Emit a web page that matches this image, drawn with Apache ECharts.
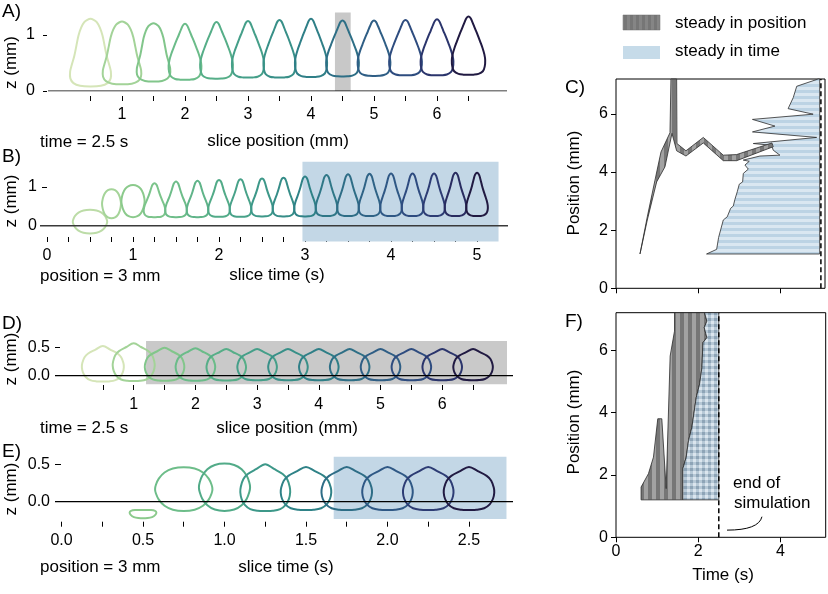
<!DOCTYPE html>
<html><head><meta charset="utf-8">
<script src="https://cdn.jsdelivr.net/npm/echarts@6/dist/echarts.min.js"></script>
<style>html,body{margin:0;padding:0;background:#fff}#c{width:828px;height:594px}</style>
</head><body><div id="c"></div>
<script>
// ---------------- DATA ----------------
// outline templates (right half, from top (0,1) to bottom (0,0)); u = half-width fraction, v = height fraction
const dropU = [0,0.12,0.24,0.38,0.54,0.70,0.84,0.95,1.0,0.97,0.86,0.60,0.30,0];
const dropV = [1,0.975,0.90,0.80,0.69,0.57,0.46,0.35,0.25,0.14,0.06,0.015,0.002,0];
const bulbU = [0,0.10,0.20,0.28,0.36,0.46,0.60,0.76,0.90,0.99,0.98,0.86,0.60,0.30,0];
const bulbV = [1,0.985,0.945,0.88,0.80,0.70,0.58,0.46,0.35,0.24,0.14,0.06,0.015,0.002,0];
const pearU = [0,0.15,0.30,0.45,0.58,0.68,0.78,0.90,0.98,0.97,0.82,0.50,0];
const pearV = [1,0.985,0.95,0.87,0.75,0.60,0.45,0.32,0.22,0.12,0.05,0.01,0];
const roofU = [0,0.35,0.70,0.88,0.98,1.0,0.95,0.82,0.60,0.30,0];
const roofV = [1,0.90,0.79,0.68,0.52,0.40,0.26,0.13,0.04,0.005,0];
const ovalU = [0,0.38,0.67,0.87,0.97,1.0,0.97,0.87,0.67,0.38,0];
const ovalV = [1,0.97,0.88,0.74,0.60,0.50,0.40,0.26,0.12,0.03,0];
const bowlU = [0,0.6,0.9,1.0,0.92,0.68,0.35,0];
const bowlV = [1,0.98,0.88,0.68,0.4,0.13,0.01,0];

// Panel A: time = 2.5 s, slices by position (mm)
const aPos    = [0.5,1.0,1.5,2.0,2.5,3.0,3.5,4.0,4.5,5.0,5.5,6.0,6.5];
const aHalfW  = [0.33,0.31,0.27,0.26,0.26,0.255,0.255,0.255,0.26,0.26,0.26,0.26,0.265];
const aBottom = [0.08,0.12,0.17,0.20,0.22,0.24,0.24,0.25,0.26,0.27,0.28,0.28,0.29];
const aTop    = [1.29,1.24,1.21,1.20,1.23,1.25,1.27,1.29,1.26,1.26,1.27,1.28,1.33];
const aShape  = ['pear','pear','pear','drop','drop','drop','drop','drop','drop','drop','drop','drop','drop'];
const aShadeX = [4.38,4.63], aShadeZ = [0,1.40];
const aTicks = [0.5,1,1.5,2,2.5,3,3.5,4,4.5,5,5.5,6,6.5], aLabels = [1,2,3,4,5,6];
const aYTicks = [0,1];

// Panel B: position = 3 mm, slices by time (s)
const bTime   = [0.5,0.75,1.0,1.25,1.5,1.75,2.0,2.25,2.5,2.75,3.0,3.25,3.5,3.75,4.0,4.25,4.5,4.75,5.0];
const bHalfW  = [0.20,0.11,0.135,0.126,0.126,0.126,0.126,0.126,0.126,0.126,0.126,0.126,0.126,0.126,0.126,0.126,0.126,0.126,0.126];
const bBottom = [-0.20,0.19,0.22,0.22,0.22,0.22,0.23,0.23,0.24,0.24,0.24,0.25,0.25,0.25,0.25,0.25,0.25,0.25,0.25];
const bTop    = [0.41,0.94,1.05,1.10,1.14,1.16,1.18,1.20,1.22,1.24,1.27,1.31,1.33,1.34,1.35,1.35,1.35,1.37,1.37];
const bShape  = ['oval','oval','oval','bulb','bulb','bulb','bulb','bulb','bulb','bulb','bulb','bulb','bulb','bulb','bulb','bulb','bulb','bulb','bulb'];
const bShadeX = [2.97,5.25], bShadeZ = [-0.41,1.65];
const bTicks = [0,0.25,0.5,0.75,1,1.25,1.5,1.75,2,2.25,2.5,2.75,3,3.25,3.5,3.75,4,4.25,4.5,4.75,5], bLabels = [0,1,2,3,4,5];
const bYTicks = [0,1];

// Panel D: time = 2.5 s, slices by position (mm)
const dPos    = [0.5,1.0,1.5,2.0,2.5,3.0,3.5,4.0,4.5,5.0,5.5,6.0,6.5];
const dHalfW  = [0.34,0.34,0.32,0.32,0.32,0.32,0.32,0.32,0.32,0.32,0.32,0.32,0.32];
const dBottom = [-0.105,-0.095,-0.09,-0.09,-0.085,-0.08,-0.08,-0.08,-0.08,-0.08,-0.08,-0.08,-0.08];
const dTop    = [0.53,0.58,0.50,0.49,0.475,0.475,0.475,0.475,0.475,0.475,0.475,0.475,0.475];
const dShape  = ['roof','roof','roof','roof','roof','roof','roof','roof','roof','roof','roof','roof','roof'];
const dShadeX = [1.2,7.05], dShadeZ = [-0.154,0.62];
const dTicks = aTicks, dLabels = [1,2,3,4,5,6];
const dYTicks = [0,0.5];

// Panel E: position = 3 mm, slices by time (s)
const eTime   = [0.5,0.75,1.0,1.25,1.5,1.75,2.0,2.25,2.5];
const eHalfW  = [0.082,0.176,0.157,0.153,0.155,0.155,0.155,0.155,0.155];
const eBottom = [-0.22,-0.124,-0.124,-0.124,-0.11,-0.11,-0.11,-0.11,-0.11];
const eTop    = [-0.11,0.46,0.51,0.50,0.465,0.465,0.465,0.465,0.465];
const eShape  = ['bowl','oval','oval','roof','roof','roof','roof','roof','roof'];
const eShadeX = [1.67,2.73], eShadeZ = [-0.23,0.60];
const eTicks = [0,0.25,0.5,0.75,1,1.25,1.5,1.75,2,2.25,2.5], eLabels = [0,0.5,1,1.5,2,2.5];
const eYTicks = [0,0.5];

// Panel C: steady regions (time s, position mm)
const cGrayT = [0.585,0.764,0.951,1.098,1.317,1.341,1.48,1.488,1.707,2.13,2.618,2.943,3.805,3.837,2.943,2.618,2.13,1.707,1.48,1.366,1.195,0.992,0.764];
const cGrayP = [1.18,2.46,3.72,4.69,5.35,7.2,7.2,4.98,4.73,5.19,4.58,4.60,5.0,4.87,4.39,4.39,5.0,4.55,4.73,5.33,4.18,3.66,2.35];
const cBlueT = [2.21,2.456,2.504,2.618,2.715,2.797,2.862,2.902,2.959,3.008,3.09,3.106,3.228,3.146,3.252,3.106,3.512,4.0,3.837,3.797,3.35,4.895,3.33,3.878,3.33,4.81,4.20,4.325,4.41,4.934,4.97,4.97];
const cBlueP = [1.18,1.34,1.75,2.35,2.46,2.75,2.83,3.06,3.32,3.58,3.66,3.95,4.10,4.24,4.37,4.41,4.55,4.58,4.75,4.92,4.98,5.19,5.38,5.58,5.81,5.99,6.18,6.56,6.95,7.2,7.2,1.18];
const cEndTime = 5.0;

// Panel F
const fGrayT = [0.61,0.61,0.789,0.911,1.016,1.114,1.22,1.317,1.423,1.423,2.154,2.21,2.146,2.21,2.114,2.09,2.033,1.951,1.846,1.764,1.707,1.626,1.626];
const fGrayP = [1.2,1.61,2.04,2.57,3.80,3.80,1.56,5.81,6.61,7.2,7.2,6.93,6.72,6.40,6.24,5.44,4.91,4.48,3.53,3.10,2.57,2.20,1.2];
const fBlueT = [1.626,1.626,1.707,1.764,1.846,1.951,2.033,2.09,2.114,2.21,2.146,2.21,2.154,2.5,2.5];
const fBlueP = [1.2,2.20,2.57,3.10,3.53,4.48,4.91,5.44,6.24,6.40,6.72,6.93,7.2,7.2,1.2];
const fEndTime = 2.5;
const rTicksX = [0,2,4], rTicksY = [0,2,4,6];
const annotStart = [3.55,0.66], annotCtrl = [3.47,0.23], annotEnd = [2.70,0.23];

// ---------------- STYLE HELPERS ----------------
const FONT = 'Liberation Sans, Arial, Helvetica, sans-serif';
const CMAP = [[0,'#eef3cf'],[0.077,'#d5e5b8'],[0.1,'#bcdca7'],[0.154,'#a3d398'],[0.2,'#8bca8c'],[0.3,'#6dbd89'],[0.4,'#52ab88'],[0.5,'#3d9889'],[0.6,'#2f8287'],[0.7,'#2e6d86'],[0.8,'#2f5885'],[0.88,'#2e437b'],[0.94,'#2a2f66'],[1,'#211a42']];
function hex(h){return [1,3,5].map(i=>parseInt(h.substr(i,2),16));}
function cmap(t){
  t=Math.max(0,Math.min(1,t));
  for(let i=1;i<CMAP.length;i++){
    if(t<=CMAP[i][0]){const a=hex(CMAP[i-1][1]),b=hex(CMAP[i][1]);const f=(t-CMAP[i-1][0])/(CMAP[i][0]-CMAP[i-1][0]);
      return 'rgb('+a.map((v,k)=>Math.round(v+(b[k]-v)*f)).join(',')+')';}
  }
  return CMAP[CMAP.length-1][1];
}
const TPL = {drop:[dropU,dropV],bulb:[bulbU,bulbV],pear:[pearU,pearV],roof:[roofU,roofV],oval:[ovalU,ovalV],bowl:[bowlU,bowlV]};
function tplPts(key){const [U,V]=TPL[key];const p=[];for(let i=0;i<U.length;i++)p.push([U[i],V[i]]);for(let i=U.length-2;i>=1;i--)p.push([-U[i],V[i]]);return p;}
function pat(w,h,fn){const c=document.createElement('canvas');c.width=w;c.height=h;fn(c.getContext('2d'));return {image:c,repeat:'repeat'};}
const grayPat = pat(8,8,g=>{g.fillStyle='#a2a2a2';g.fillRect(0,0,8,8);g.fillStyle='#767676';g.fillRect(0,0,4,8);});
const legGrayPat = pat(6,6,g=>{g.fillStyle='#858585';g.fillRect(0,0,6,6);g.fillStyle='#767676';g.fillRect(0,0,3,6);});
const blueHPat = pat(6,6,g=>{g.fillStyle='#dae7f1';g.fillRect(0,0,6,6);g.fillStyle='#bcd3e4';g.fillRect(0,0,6,3);});
const blueChkPat = pat(6,6,g=>{g.fillStyle='#dbe5ee';g.fillRect(0,0,6,6);g.fillStyle='#b6c8d6';g.fillRect(0,0,6,3);g.fillRect(0,0,3,6);g.fillStyle='#8ea4b7';g.fillRect(0,0,3,3);});

function outlineSeries(g,xs,hw,bot,top,shp,norm){
  return {type:'custom',xAxisIndex:g,yAxisIndex:g,z:3,silent:true,clip:false,
    data:xs.map((x,i)=>[x,bot[i]]),
    renderItem:(params,api)=>{const i=params.dataIndex;
      const pts=tplPts(shp[i]).map(([u,v])=>api.coord([xs[i]+u*hw[i],bot[i]+v*(top[i]-bot[i])]));
      return {type:'polygon',shape:{points:pts,smooth:0.35},style:{fill:'none',stroke:cmap(xs[i]/norm),lineWidth:2}};}};
}
function rectSeries(g,xr,zr,color){
  return {type:'custom',xAxisIndex:g,yAxisIndex:g,z:1,silent:true,clip:false,data:[[xr[0],zr[0]]],
    renderItem:(p,api)=>{const a=api.coord([xr[0],zr[1]]),b=api.coord([xr[1],zr[0]]);
      return {type:'rect',shape:{x:a[0],y:a[1],width:b[0]-a[0],height:b[1]-a[1]},style:{fill:color}};}};
}
function polySeries(g,ts,ps,fill,z){
  return {type:'custom',xAxisIndex:g,yAxisIndex:g,z:z,silent:true,clip:false,data:[[ts[0],ps[0]]],
    renderItem:(p,api)=>({type:'polygon',shape:{points:ts.map((t,i)=>api.coord([t,ps[i]]))},style:{fill:fill,stroke:'#2b2b2b',lineWidth:0.8}})};
}
function hLine(g,x0,x1,color,w){return {type:'line',xAxisIndex:g,yAxisIndex:g,data:[[x0,0],[x1,0]],symbol:'none',lineStyle:{color:color,width:w},z:4,silent:true};}
function vDash(g,t,ymax){return {type:'line',xAxisIndex:g,yAxisIndex:g,data:[[t,0],[t,ymax]],symbol:'none',lineStyle:{color:'#000',width:1.5,type:[5,3]},z:6,silent:true};}

function xAx(g,min,max,ticks,labels,fmt,offset,margin){
  return {gridIndex:g,type:'value',min:min,max:max,offset:offset,splitLine:{show:false},
    axisLine:{show:false,onZero:false},
    axisTick:{show:true,customValues:ticks,length:5,lineStyle:{color:'#000',width:1}},
    axisLabel:{show:labels.length>0,customValues:labels,formatter:fmt,color:'#000',fontSize:16,fontFamily:FONT,margin:margin}};
}
function yAx(g,min,max,ticks,fmt,offset,margin,len){
  return {gridIndex:g,type:'value',min:min,max:max,offset:offset,splitLine:{show:false},
    axisLine:{show:false,onZero:false},
    axisTick:{show:true,customValues:ticks,length:len,lineStyle:{color:'#000',width:1}},
    axisLabel:{show:true,customValues:ticks,formatter:fmt,color:'#000',fontSize:16,fontFamily:FONT,margin:margin}};
}
const f0 = v=>String(Math.round(v*100)/100), f1 = v=>v.toFixed(1);

const A_X=[-0.1746,7.111], B_X=[-0.0814,5.36], D_X=[-0.2755,7.147], E_X=[-0.0399,2.77];
const R_X=[0,5.1], R_Y=[0,7.2];

function txt(x,y,s,size,align,rot){
  return {type:'text',x:x,y:y,rotation:rot||0,silent:true,
    style:{text:s,fontSize:size,fontFamily:FONT,fill:'#000',align:align||'left',verticalAlign:'middle'}};
}

const option = {
  animation:false,
  backgroundColor:'#fff',
  grid:[
    {left:48,top:7,width:459,height:84},
    {left:40,top:160,width:468,height:77},
    {left:55,top:336.5,width:458,height:48.5},
    {left:55,top:449.3,width:458,height:72.4},
    {left:616,top:79,width:209,height:209.3,show:true,borderColor:'#000',borderWidth:1,backgroundColor:'transparent'},
    {left:616,top:312.7,width:209.7,height:224.6,show:true,borderColor:'#000',borderWidth:1,backgroundColor:'transparent'}
  ],
  xAxis:[
    xAx(0,A_X[0],A_X[1],aTicks,aLabels,f0,5,11),
    xAx(1,B_X[0],B_X[1],bTicks,bLabels,f0,0,11),
    xAx(2,D_X[0],D_X[1],dTicks,dLabels,f0,0,12),
    xAx(3,E_X[0],E_X[1],eTicks,eLabels,f1,0,11),
    xAx(4,R_X[0],R_X[1],rTicksX,[],f0,0,6),
    xAx(5,R_X[0],R_X[1],rTicksX,rTicksX,f0,0,6)
  ],
  yAxis:[
    yAx(0,0,1.5,aYTicks,f0,1,12,4),
    yAx(1,-0.292,1.698,bYTicks,f0,-7,10,5),
    yAx(2,-0.166,0.7,dYTicks,f1,-5,10,5),
    yAx(3,-0.267,0.7,eYTicks,f1,-6,11,6),
    yAx(4,R_Y[0],R_Y[1],rTicksY,f0,0,8,5),
    yAx(5,R_Y[0],R_Y[1],rTicksY,f0,0,8,5)
  ],
  series:[
    rectSeries(0,aShadeX,aShadeZ,'#c8c8c8'),
    outlineSeries(0,aPos,aHalfW,aBottom,aTop,aShape,6.5),
    hLine(0,A_X[0],A_X[1],'#000',1.2),
    rectSeries(1,bShadeX,bShadeZ,'#c3d7e6'),
    outlineSeries(1,bTime,bHalfW,bBottom,bTop,bShape,5),
    hLine(1,B_X[0],B_X[1],'#3a3a3a',1.6),
    rectSeries(2,dShadeX,dShadeZ,'#c9c9c9'),
    outlineSeries(2,dPos,dHalfW,dBottom,dTop,dShape,6.5),
    hLine(2,D_X[0],D_X[1],'#000',1.2),
    rectSeries(3,eShadeX,eShadeZ,'#c3d7e6'),
    outlineSeries(3,eTime,eHalfW,eBottom,eTop,eShape,2.5),
    hLine(3,E_X[0],E_X[1],'#000',1.2),
    polySeries(4,cBlueT,cBlueP,blueHPat,2),
    polySeries(4,cGrayT,cGrayP,grayPat,3),
    vDash(4,cEndTime,R_Y[1]),
    polySeries(5,fGrayT,fGrayP,grayPat,2),
    polySeries(5,fBlueT,fBlueP,blueChkPat,3),
    vDash(5,fEndTime,R_Y[1]),
    {type:'custom',xAxisIndex:5,yAxisIndex:5,z:6,silent:true,clip:false,data:[annotStart],
      renderItem:(p,api)=>{const s=api.coord(annotStart),c=api.coord(annotCtrl),e=api.coord(annotEnd);
        return {type:'bezierCurve',shape:{x1:s[0],y1:s[1],cpx1:c[0],cpy1:c[1],x2:e[0],y2:e[1]},style:{fill:'none',stroke:'#000',lineWidth:1}};}}
  ],
  graphic:[
    txt(2,12,'A)',19), txt(2,157,'B)',19), txt(565,88,'C)',19), txt(2,324,'D)',19), txt(2,452,'E)',19), txt(565,322,'F)',19),
    txt(11,62.5,'z (mm)',17,'center',Math.PI/2),
    txt(11,201,'z (mm)',17,'center',Math.PI/2),
    txt(11,359,'z (mm)',17,'center',Math.PI/2),
    txt(11,489,'z (mm)',17,'center',Math.PI/2),
    txt(278,141,'slice position (mm)',17,'center'), txt(40,142,'time = 2.5 s',17),
    txt(277,275,'slice time (s)',17,'center'), txt(40,276,'position = 3 mm',17),
    txt(287,428,'slice position (mm)',17,'center'), txt(40,428,'time = 2.5 s',17),
    txt(286,567,'slice time (s)',17,'center'), txt(40,567,'position = 3 mm',17),
    txt(574,183,'Position (mm)',17,'center',Math.PI/2),
    txt(574,422,'Position (mm)',17,'center',Math.PI/2),
    txt(723,575,'Time (s)',17,'center'),
    txt(733,483,'end of',17), txt(734,503,'simulation',17),
    {type:'rect',shape:{x:623,y:15,width:37,height:15},style:{fill:legGrayPat,stroke:'#6f6f6f',lineWidth:0.5},silent:true},
    {type:'rect',shape:{x:623,y:46,width:37,height:13},style:{fill:'#c6dbe9'},silent:true},
    txt(675,23,'steady in position',17), txt(675,51,'steady in time',17)
  ]
};
const chart = echarts.init(document.getElementById('c'),null,{renderer:'canvas',width:828,height:594});
chart.setOption(option);
</script></body></html>
